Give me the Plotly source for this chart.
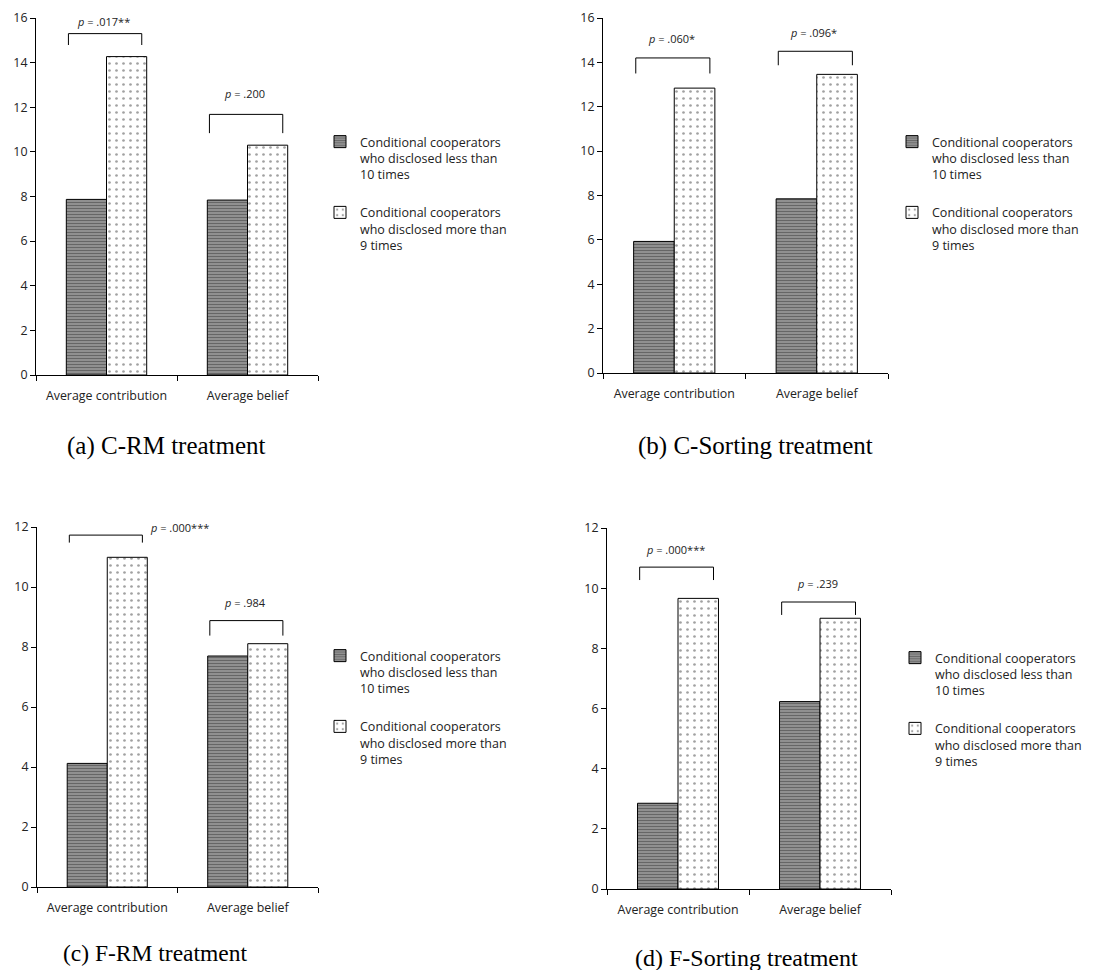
import plotly.graph_objects as go

# page body keeps an 8px margin, so the figure is drawn 8px smaller
# and every position below (taken from the 1112x970 reference) is
# shifted by that margin
PAGE_OFFSET = 8
W, H = 1112 - PAGE_OFFSET, 970 - PAGE_OFFSET

categories = ["Average contribution", "Average belief"]
panel_ids = ["a", "b", "c", "d"]
captions = ["(a) C-RM treatment", "(b) C-Sorting treatment",
            "(c) F-RM treatment", "(d) F-Sorting treatment"]

# means per group
less_a = [7.87, 7.84]
more_a = [14.27, 10.30]
less_b = [5.93, 7.85]
more_b = [12.84, 13.46]
less_c = [4.12, 7.70]
more_c = [10.99, 8.11]
less_d = [2.85, 6.23]
more_d = [9.66, 9.00]

y_max = [16, 16, 12, 12]

# p-values of the tests, with bracket levels (data units)
p_text_a = [".017**", ".200"]
p_text_b = [".060*", ".096*"]
p_text_c = [".000***", ".984"]
p_text_d = [".000***", ".239"]
bracket_low_a = [14.79, 10.84]
bracket_high_a = [15.30, 11.68]
bracket_low_b = [13.50, 13.87]
bracket_high_b = [14.20, 14.50]
bracket_low_c = [11.48, 8.38]
bracket_high_c = [11.73, 8.88]
bracket_low_d = [10.27, 9.11]
bracket_high_d = [10.70, 9.54]
label_y_a = [15.85, 12.6]
label_y_b = [15.07, 15.34]
label_y_c = [12.0, 9.5]
label_y_d = [11.27, 10.17]

less_name = "Conditional cooperators<br>who disclosed less than<br>10 times"
more_name = "Conditional cooperators<br>who disclosed more than<br>9 times"

less_vals = [less_a, less_b, less_c, less_d]
more_vals = [more_a, more_b, more_c, more_d]
p_texts = [p_text_a, p_text_b, p_text_c, p_text_d]
br_low = [bracket_low_a, bracket_low_b, bracket_low_c, bracket_low_d]
br_high = [bracket_high_a, bracket_high_b, bracket_high_c, bracket_high_d]
label_y = [label_y_a, label_y_b, label_y_c, label_y_d]

# plot area of each panel in pixels: left, right, top, bottom
boxes = [(36, 318, 18, 375), (603, 888, 18, 373),
         (37, 318, 527, 887), (607, 891, 528, 889)]
legend_pos = [(320, 127), (892, 127), (320, 641), (895, 643)]
caption_pos = [(166, 446), (755, 446), (155, 953), (746, 958)]
caption_size = [25, 25, 23.5, 24]


def fx(p):
    return (p - PAGE_OFFSET) / W


def fy(p):
    return 1 - (p - PAGE_OFFSET) / H


FONT = "Open Sans"
fig = go.Figure()

for i, pid in enumerate(panel_ids):
    sfx = "" if i == 0 else str(i + 1)
    lg = "legend" + sfx
    fig.add_trace(go.Bar(
        x=categories, y=less_vals[i], name=less_name,
        xaxis="x" + sfx, yaxis="y" + sfx, legend=lg,
        legendgroup=pid + "_less",
        marker=dict(
            color="#a8a8a8",
            line=dict(color="black", width=1),
            pattern=dict(shape="-", fgcolor="#222222", bgcolor="#ababab",
                         size=3, solidity=0.6)
        )
    ))
    fig.add_trace(go.Bar(
        x=categories, y=more_vals[i], name=more_name,
        xaxis="x" + sfx, yaxis="y" + sfx, legend=lg,
        legendgroup=pid + "_more",
        marker=dict(
            color="white",
            line=dict(color="black", width=1),
            pattern=dict(shape=".", fgcolor="#444444", bgcolor="white",
                         size=7, solidity=0.12)
        )
    ))

    left, right, top, bottom = boxes[i]
    axis_font = dict(family=FONT, size=12.4, color="#222222")
    fig.update_layout({
        "xaxis" + sfx: dict(
            domain=[fx(left), fx(right)], anchor="y" + sfx,
            type="category", range=[-0.5, 1.5], automargin=False,
            showline=True, linecolor="black", linewidth=1,
            ticks="outside", tickson="boundaries", ticklen=5,
            tickcolor="black", ticklabelstandoff=9,
            tickfont=axis_font, showgrid=False, zeroline=False
        ),
        "yaxis" + sfx: dict(
            domain=[fy(bottom), fy(top)], anchor="x" + sfx,
            range=[0, y_max[i]], dtick=2, automargin=False,
            ticklabeloverflow="allow",
            showline=True, linecolor="black", linewidth=1,
            ticks="outside", ticklen=5, tickcolor="black",
            tickfont=axis_font, showgrid=False, zeroline=False
        ),
        lg: dict(
            x=fx(legend_pos[i][0]), y=fy(legend_pos[i][1]),
            xanchor="left", yanchor="top", valign="top",
            font=dict(family=FONT, size=12.5, color="#222222"),
            tracegroupgap=19, bgcolor="rgba(0,0,0,0)"
        )
    })

    # significance brackets above each pair of bars
    for k in range(len(categories)):
        x0, x1 = k - 0.27, k + 0.25
        lo, hi = br_low[i][k], br_high[i][k]
        line = dict(color="black", width=1)
        ref = dict(xref="x" + sfx, yref="y" + sfx, line=line)
        fig.add_shape(type="line", x0=x0, x1=x0, y0=lo, y1=hi, **ref)
        fig.add_shape(type="line", x0=x0, x1=x1, y0=hi, y1=hi, **ref)
        fig.add_shape(type="line", x0=x1, x1=x1, y0=hi, y1=lo, **ref)
        # panel (c) puts the first label beside the bracket
        if i == 2 and k == 0:
            tx, anchor = x1 + 0.04, "left"
        else:
            tx, anchor = k - 0.02, "center"
        fig.add_annotation(
            x=tx, y=label_y[i][k], xref="x" + sfx, yref="y" + sfx,
            text="<i>p</i> = " + p_texts[i][k], showarrow=False,
            xanchor=anchor, yanchor="middle",
            font=dict(family=FONT, size=11, color="#222222")
        )

    fig.add_annotation(
        x=fx(caption_pos[i][0]), y=fy(caption_pos[i][1]),
        xref="paper", yref="paper", text=captions[i], showarrow=False,
        xanchor="center", yanchor="middle",
        font=dict(family="Liberation Serif", size=caption_size[i],
                  color="black")
    )

fig.update_layout(
    width=W, height=H,
    margin=dict(l=0, r=0, t=0, b=0),
    paper_bgcolor="white", plot_bgcolor="white",
    barmode="group", bargap=0.43, bargroupgap=0,
    showlegend=True
)

fig.write_html("out.html")
